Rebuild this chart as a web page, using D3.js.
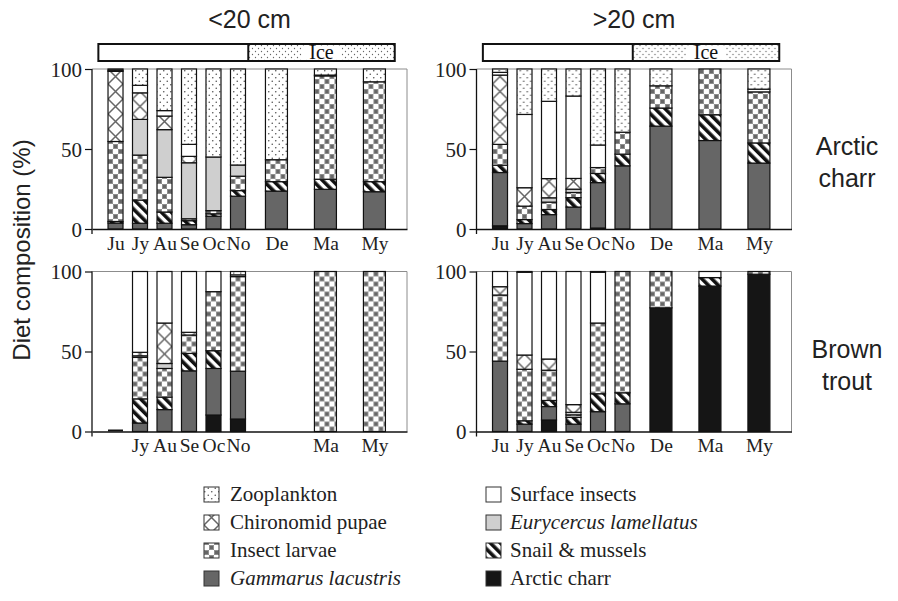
<!DOCTYPE html>
<html>
<head>
<meta charset="utf-8">
<script src="https://cdn.jsdelivr.net/npm/d3@7"></script>
<style>
  body { margin: 0; background: #fff; }
  svg { display: block; }
</style>
</head>
<body>
<svg id="chart" width="898" height="601"></svg>
<script>
// diet categories, stacked bottom -> top
const categories = [
  "Arctic charr",
  "Gammarus lacustris",
  "Snail & mussels",
  "Insect larvae",
  "Eurycercus lamellatus",
  "Chironomid pupae",
  "Surface insects",
  "Zooplankton",
];
const months = ["Ju", "Jy", "Au", "Se", "Oc", "No", "De", "Ma", "My"];
// sampling position on the season axis
const monthPos = [0, 1, 2, 3, 4, 5, 6.57, 8.57, 10.57];
const underIce = [false, false, false, false, false, false, true, true, true];

// open water / ice period along the season axis
const iceFrom = 5.42;
const seasonStart = -0.7;
const seasonEnd = 11.4;

// values per month in category order (%), null = not sampled
const charrSmall = [
  [0, 3.7, 1, 50, 0, 43.8, 0.7, 0.8],
  [0, 3.6, 14.5, 28.1, 22.3, 16.6, 4.7, 10.2],
  [0, 3.6, 7, 21.7, 29.8, 8.5, 3.4, 26],
  [0, 2.7, 2.5, 1.2, 35, 4, 7.5, 47.1],
  [0, 8, 1.5, 2, 33.5, 0, 0, 55],
  [0, 20.5, 3.5, 9, 7, 0, 0, 60],
  [0, 23.7, 5.9, 13.7, 0, 0, 0, 56.7],
  [0, 24.8, 6.3, 64.6, 0, 0, 0.5, 3.8],
  [0, 23.3, 6.3, 62.4, 0, 0, 0, 8],
];
const charrLarge = [
  [2, 33.3, 4.6, 13, 0, 43.3, 1.7, 2.1],
  [0, 3.4, 2.5, 8.4, 0, 11.5, 45.8, 28.4],
  [0, 9, 3.2, 4.6, 2.7, 12, 48.3, 20.2],
  [0, 13.7, 5.9, 3.2, 2.1, 6.7, 51.5, 16.9],
  [0.6, 28.4, 5.7, 3.7, 0, 0, 14.1, 47.5],
  [0, 39.5, 7.3, 13.7, 0, 0, 0, 39.5],
  [0, 64.3, 11.3, 13.9, 0, 0, 0, 10.5],
  [0, 55.3, 16.1, 28.6, 0, 0, 0, 0],
  [0, 41.2, 12.6, 31.9, 0, 0, 1.7, 12.6],
];
const troutSmall = [
  [0, 0, 0, 0, 0, 0, 0, 0],
  [0, 5.3, 15.1, 25.9, 1, 2.2, 50.5, 0],
  [0, 13.7, 7.8, 17.9, 3.1, 25.3, 32.2, 0],
  [0, 37.9, 10.9, 11.5, 0, 1.7, 38, 0],
  [10.3, 29.1, 11.1, 36.9, 0, 0, 12.6, 0],
  [7.8, 29.9, 0, 59.1, 0, 0, 1.1, 2.1],
  null,
  [0, 0, 0, 100, 0, 0, 0, 0],
  [0, 0, 0, 100, 0, 0, 0, 0],
];
const troutLarge = [
  [0, 44, 0, 41.3, 0, 5.2, 9.5, 0],
  [0, 4.6, 2.1, 32.2, 0, 8.9, 51.7, 0.5],
  [7.2, 8.4, 3.8, 18.9, 0, 7, 54.7, 0],
  [0, 4.6, 4.2, 1.6, 1.6, 4.8, 83.2, 0],
  [0, 12.4, 11.2, 44.2, 0, 0, 31.7, 0.5],
  [0, 17.3, 6.9, 75.8, 0, 0, 0, 0],
  [77.3, 0, 0, 22.7, 0, 0, 0, 0],
  [90.9, 0, 5.3, 0, 0, 0, 3.8, 0],
  [98.3, 0, 0, 1.7, 0, 0, 0, 0],
];

const sizeTitles = ["<20 cm", ">20 cm"];
const speciesTitles = [["Arctic", "charr"], ["Brown", "trout"]];
const yTicks = [0, 50, 100];

const legendLeft = ["Zooplankton", "Chironomid pupae", "Insect larvae", "Gammarus lacustris"];
const legendRight = ["Surface insects", "Eurycercus lamellatus", "Snail & mussels", "Arctic charr"];
const italicNames = ["Gammarus lacustris", "Eurycercus lamellatus"];

const SERIF = "'Liberation Serif', 'Times New Roman', serif";
const SANS = "'Liberation Sans', Arial, Helvetica, sans-serif";

const svg = d3.select("#chart");
const defs = svg.append("defs");

const panelW = 315;
const panelH = 160;
const colX = [92, 476.5];
const rowY = [69, 271.5];

const x = d3.scaleLinear().domain([-0.96, 11.9]).range([0, panelW]);
const y = d3.scaleLinear().domain([0, 100]).range([panelH, 0]);
const barW = (i) => (underIce[i] ? 22 : 15);
const barLeft = (i) => x(monthPos[i]) - barW(i) / 2;

// ---- patterns ----
function dotsPattern(id, step, r, col) {
  const p = defs.append("pattern").attr("id", id)
    .attr("patternUnits", "userSpaceOnUse")
    .attr("width", step).attr("height", step);
  p.append("rect").attr("width", step).attr("height", step).attr("fill", "#fff");
  p.append("circle").attr("cx", step / 4).attr("cy", step / 4).attr("r", r).attr("fill", col);
  p.append("circle").attr("cx", (3 * step) / 4).attr("cy", (3 * step) / 4).attr("r", r).attr("fill", col);
}
dotsPattern("zoo", 7, 0.8, "#555");
dotsPattern("ice", 6, 0.65, "#666");

const made = new Set();
function alignedPattern(kind, x0, w) {
  const id = `${kind}-${Math.round(x0 * 10)}-${w}`;
  if (made.has(id)) return `url(#${id})`;
  made.add(id);
  const p = defs.append("pattern").attr("id", id).attr("patternUnits", "userSpaceOnUse");
  if (kind === "chiro") {
    p.attr("x", x0).attr("y", 0).attr("width", w).attr("height", 15);
    p.append("rect").attr("width", w).attr("height", 15).attr("fill", "#fff");
    p.append("path").attr("d", `M0,0L${w},15M${w},0L0,15`)
      .attr("stroke", "#666").attr("stroke-width", 1.5).attr("fill", "none");
  } else if (kind === "larvae") {
    p.attr("x", x0).attr("y", 0).attr("width", 10).attr("height", 10);
    p.append("rect").attr("width", 10).attr("height", 10).attr("fill", "#fff");
    [[0, 0], [5, 5]].forEach(([a, b]) => {
      p.append("rect").attr("x", a).attr("y", b).attr("width", 5).attr("height", 5).attr("fill", "#8e8e8e");
      p.append("rect").attr("x", a + 1).attr("y", b + 1).attr("width", 3).attr("height", 3).attr("fill", "#666");
    });
  } else if (kind === "snail") {
    p.attr("x", x0).attr("y", 0).attr("width", 7).attr("height", 7)
      .attr("patternTransform", "rotate(-45)");
    p.append("rect").attr("width", 7).attr("height", 7).attr("fill", "#fff");
    p.append("rect").attr("width", 3.6).attr("height", 7).attr("fill", "#111");
  }
  return `url(#${id})`;
}

function fillFor(cat, x0, w) {
  switch (cat) {
    case "Arctic charr": return "#151515";
    case "Gammarus lacustris": return "#666";
    case "Snail & mussels": return alignedPattern("snail", x0, w);
    case "Insect larvae": return alignedPattern("larvae", x0, w);
    case "Eurycercus lamellatus": return "#cfcfcf";
    case "Chironomid pupae": return alignedPattern("chiro", x0, w);
    case "Surface insects": return "#fff";
    case "Zooplankton": return "url(#zoo)";
  }
}

// ---- panels ----
const panels = [
  { rows: charrSmall, col: 0, row: 0 },
  { rows: charrLarge, col: 1, row: 0 },
  { rows: troutSmall, col: 0, row: 1 },
  { rows: troutLarge, col: 1, row: 1 },
];

panels.forEach((p) => {
  const g = svg.append("g").attr("transform", `translate(${colX[p.col]},${rowY[p.row]})`);

  // light frame top/right
  g.append("path").attr("d", `M0,0H${panelW}V${panelH}`)
    .attr("fill", "none").attr("stroke", "#8c8c8c").attr("stroke-width", 1);

  const table = [];
  p.rows.forEach((vals, i) => {
    if (!vals) return;
    const o = { i };
    categories.forEach((c, k) => (o[c] = vals[k]));
    table.push(o);
  });
  const series = d3.stack().keys(categories)(table);

  series.forEach((s) => {
    const cat = s.key;
    g.selectAll(null)
      .data(s.filter((d) => d[1] - d[0] > 0))
      .join("rect")
      .attr("x", (d) => barLeft(d.data.i))
      .attr("y", (d) => y(d[1]))
      .attr("width", (d) => barW(d.data.i))
      .attr("height", (d) => y(d[0]) - y(d[1]))
      .attr("fill", (d) => fillFor(cat, barLeft(d.data.i), barW(d.data.i)))
      .attr("stroke", "#111")
      .attr("stroke-width", 1.2);
  });

  // sampled but empty months: a mark on the baseline
  const empty = table.filter((d) => d3.sum(categories, (c) => d[c]) === 0);
  g.selectAll(null).data(empty).join("line")
    .attr("x1", (d) => barLeft(d.i)).attr("x2", (d) => barLeft(d.i) + barW(d.i))
    .attr("y1", panelH - 1).attr("y2", panelH - 1)
    .attr("stroke", "#111").attr("stroke-width", 2);

  // y axis
  const ya = g.append("g")
    .call(d3.axisLeft(y).tickValues(yTicks).tickSize(7).tickPadding(3).tickSizeOuter(0));
  ya.select(".domain").remove();
  ya.selectAll("line").attr("stroke", "#111").attr("stroke-width", 1.2);
  ya.selectAll("text").attr("font-family", SERIF).attr("font-size", 21).attr("fill", "#222")
    .attr("dy", "0.34em");
  g.append("line").attr("x1", 0).attr("x2", 0).attr("y1", 0).attr("y2", panelH + 5)
    .attr("stroke", "#111").attr("stroke-width", 1.3);

  // x axis
  const shown = table.filter((d) => d3.sum(categories, (c) => d[c]) > 0).map((d) => d.i);
  const xa = g.append("g").attr("transform", `translate(0,${panelH})`)
    .call(d3.axisBottom(x)
      .tickValues(shown.map((i) => monthPos[i]))
      .tickFormat((v) => months[monthPos.indexOf(v)])
      .tickSize(0).tickPadding(7));
  xa.select(".domain").attr("stroke", "#111").attr("stroke-width", 1.3);
  xa.selectAll("text").attr("font-family", SERIF).attr("font-size", 19.5).attr("fill", "#222");

  // ice bar + size titles on the top row
  if (p.row === 0) {
    const ib = g.append("g").attr("transform", "translate(0,-25)");
    const x0 = x(seasonStart), x1 = x(iceFrom), x2 = x(seasonEnd);
    ib.append("rect").attr("x", x0).attr("y", 0).attr("width", x1 - x0).attr("height", 17).attr("fill", "#fff");
    ib.append("rect").attr("x", x1).attr("y", 0).attr("width", x2 - x1).attr("height", 17).attr("fill", "url(#ice)");
    const mid = (x1 + x2) / 2;
    ib.append("rect").attr("x", mid - 20).attr("y", 1.5).attr("width", 40).attr("height", 14).attr("fill", "#fff");
    ib.append("text").attr("x", mid).attr("y", 14.5).attr("text-anchor", "middle")
      .attr("font-family", SERIF).attr("font-size", 20).attr("fill", "#111").text("Ice");
    ib.append("line").attr("x1", x1).attr("x2", x1).attr("y1", 0).attr("y2", 17)
      .attr("stroke", "#111").attr("stroke-width", 2);
    ib.append("rect").attr("x", x0).attr("y", 0).attr("width", x2 - x0).attr("height", 17)
      .attr("fill", "none").attr("stroke", "#111").attr("stroke-width", 2);

    g.append("text").attr("x", panelW / 2).attr("y", -41).attr("text-anchor", "middle")
      .attr("font-family", SANS).attr("font-size", 25).attr("fill", "#222")
      .text(sizeTitles[p.col]);
  }
});

// species labels on the right
speciesTitles.forEach((lines, r) => {
  const t = svg.append("text").attr("x", 847).attr("y", rowY[r] + 86)
    .attr("text-anchor", "middle").attr("font-family", SANS).attr("font-size", 25).attr("fill", "#222");
  lines.forEach((s, k) => t.append("tspan").attr("x", 847).attr("dy", k === 0 ? 0 : 32).text(s));
});

// y label
svg.append("text")
  .attr("transform", "translate(30,250) rotate(-90)")
  .attr("text-anchor", "middle")
  .attr("font-family", SANS).attr("font-size", 24).attr("fill", "#222")
  .text("Diet composition (%)");

// ---- legend ----
const legendCols = [
  { names: legendLeft, sx: 204, tx: 230 },
  { names: legendRight, sx: 486, tx: 510 },
];
const legendBase = 501;
const legendStep = 28;
legendCols.forEach((col) => {
  col.names.forEach((name, k) => {
    const by = legendBase + k * legendStep;
    svg.append("rect").attr("x", col.sx).attr("y", by - 14).attr("width", 15).attr("height", 15)
      .attr("fill", fillFor(name, col.sx, 15)).attr("stroke", "#333").attr("stroke-width", 1);
    svg.append("text").attr("x", col.tx).attr("y", by)
      .attr("font-family", SERIF).attr("font-size", 21).attr("fill", "#222")
      .attr("font-style", italicNames.includes(name) ? "italic" : "normal")
      .text(name);
  });
});
</script>
</body>
</html>
